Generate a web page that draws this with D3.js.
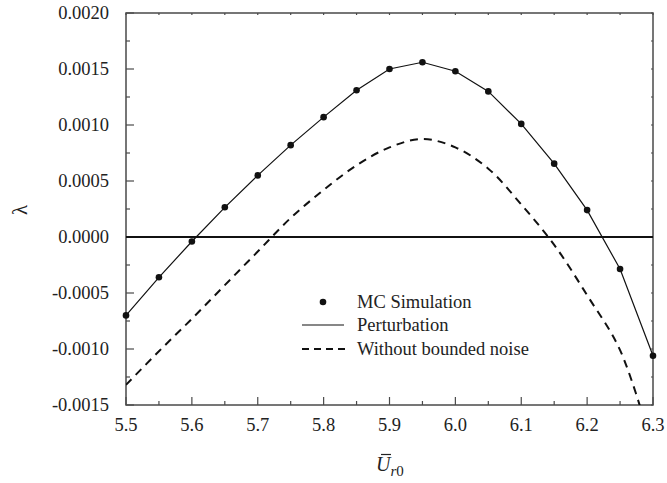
<!DOCTYPE html>
<html>
<head>
<meta charset="utf-8">
<script src="https://cdn.jsdelivr.net/npm/d3@7"></script>
<style>
  html, body { margin: 0; padding: 0; background: #fff; }
  svg { display: block; }
</style>
</head>
<body>
<svg id="chart" width="667" height="483"></svg>
<script>
// Growth exponent λ versus mean speed Ū_r0
const uValues = [5.5, 5.55, 5.6, 5.65, 5.7, 5.75, 5.8, 5.85, 5.9, 5.95, 6.0, 6.05, 6.1, 6.15, 6.2, 6.25, 6.3];
const mcSimulation = [-0.0007, -0.00036, -0.00004, 0.000265, 0.00055, 0.00082, 0.00107, 0.00131, 0.0015, 0.00156, 0.00148, 0.0013, 0.00101, 0.000655, 0.00024, -0.000286, -0.00106];
const perturbation = [-0.0007, -0.00036, -0.00004, 0.000265, 0.00055, 0.00082, 0.00107, 0.00131, 0.0015, 0.00156, 0.00148, 0.0013, 0.00101, 0.000655, 0.00024, -0.000286, -0.00106];
const withoutNoise = [-0.00132, -0.00102, -0.00073, -0.00043, -0.00013, 0.00017, 0.00042, 0.00064, 0.0008, 0.000875, 0.0008, 0.00061, 0.00029, -0.00007, -0.00052, -0.00101, -0.0019];
const xTicks = [5.5, 5.6, 5.7, 5.8, 5.9, 6.0, 6.1, 6.2, 6.3];
const yTicks = [-0.0015, -0.001, -0.0005, 0, 0.0005, 0.001, 0.0015, 0.002];
const legendLabels = ["MC Simulation", "Perturbation", "Without bounded noise"];

const svg = d3.select("#chart");
const pLeft = 126, pRight = 653, pTop = 13, pBottom = 405;
const ink = "#222";
const serif = "Liberation Serif";

const x = d3.scaleLinear().domain([5.5, 6.3]).range([pLeft, pRight]);
const y = d3.scaleLinear().domain([-0.0015, 0.002]).range([pBottom, pTop]);

const frameColor = "#4a4a4a";

svg.append("defs").append("clipPath").attr("id", "plotClip")
  .append("rect").attr("x", pLeft).attr("y", pTop).attr("width", pRight - pLeft).attr("height", pBottom - pTop);

// minor ticks at half steps
const xMinor = d3.range(5.5, 6.3001, 0.05).map(v => +v.toFixed(2));
const yMinor = d3.range(-0.0015, 0.002001, 0.00025).map(v => +v.toFixed(5));

const axes = svg.append("g");

// bottom axis: inward ticks
axes.selectAll(".bminor").data(xMinor).join("line")
  .attr("x1", d => x(d)).attr("x2", d => x(d))
  .attr("y1", pBottom).attr("y2", d => pBottom - (xTicks.some(t => Math.abs(t - d) < 1e-6) ? 8 : 4))
  .attr("stroke", frameColor).attr("stroke-width", 1.2);
// top axis: small ticks
axes.selectAll(".tminor").data(xMinor).join("line")
  .attr("x1", d => x(d)).attr("x2", d => x(d))
  .attr("y1", pTop).attr("y2", pTop + 2)
  .attr("stroke", frameColor).attr("stroke-width", 1.2);
// left axis: inward ticks
axes.selectAll(".lminor").data(yMinor).join("line")
  .attr("y1", d => y(d)).attr("y2", d => y(d))
  .attr("x1", pLeft).attr("x2", d => pLeft + (yTicks.some(t => Math.abs(t - d) < 1e-9) ? 8 : 4))
  .attr("stroke", frameColor).attr("stroke-width", 1.2);
// right axis: small ticks
axes.selectAll(".rminor").data(yMinor).join("line")
  .attr("y1", d => y(d)).attr("y2", d => y(d))
  .attr("x1", pRight).attr("x2", pRight - 2)
  .attr("stroke", frameColor).attr("stroke-width", 1.2);

// frame
axes.append("rect")
  .attr("x", pLeft).attr("y", pTop).attr("width", pRight - pLeft).attr("height", pBottom - pTop)
  .attr("fill", "none").attr("stroke", frameColor).attr("stroke-width", 1.5);

// tick labels
axes.selectAll(".xlab").data(xTicks).join("text")
  .attr("x", d => x(d)).attr("y", pBottom + 26)
  .attr("text-anchor", "middle").attr("font-size", 18.5)
  .attr("font-family", serif).attr("fill", ink)
  .text(d => d3.format(".1f")(d));
axes.selectAll(".ylab").data(yTicks).join("text")
  .attr("x", 109).attr("y", d => y(d)).attr("dy", "0.35em")
  .attr("text-anchor", "end").attr("font-size", 18.5)
  .attr("font-family", serif).attr("fill", ink)
  .text(d => d3.format(".4f")(d).replace("−", "-"));

// axis titles
svg.append("text")
  .attr("transform", "translate(27,210) rotate(-90)")
  .attr("text-anchor", "middle").attr("font-size", 21)
  .attr("font-family", serif).attr("fill", ink)
  .text("λ");

const xt = svg.append("text").attr("x", 376).attr("y", 471).attr("font-size", 20)
  .attr("font-family", serif).attr("fill", ink);
xt.append("tspan").attr("font-style", "italic").text("U");
xt.append("tspan").attr("font-style", "italic").attr("font-size", 15).attr("dy", 5).text("r");
xt.append("tspan").attr("font-size", 15).text("0");
svg.append("line").attr("x1", 381).attr("x2", 391).attr("y1", 454.5).attr("y2", 454.5)
  .attr("stroke", ink).attr("stroke-width", 1.2);

// zero reference line
svg.append("line")
  .attr("x1", pLeft).attr("x2", pRight).attr("y1", y(0)).attr("y2", y(0))
  .attr("stroke", "#111").attr("stroke-width", 2.2);

const plot = svg.append("g").attr("clip-path", "url(#plotClip)");
const line = d3.line().x((d, i) => x(uValues[i])).y(d => y(d));
const smoothLine = d3.line().x((d, i) => x(uValues[i])).y(d => y(d)).curve(d3.curveCatmullRom);

plot.append("path").datum(withoutNoise)
  .attr("d", smoothLine).attr("fill", "none")
  .attr("stroke", "#111").attr("stroke-width", 2).attr("stroke-dasharray", "8,6");

plot.append("path").datum(perturbation)
  .attr("d", line).attr("fill", "none")
  .attr("stroke", "#111").attr("stroke-width", 1.2);

svg.append("g").selectAll("circle").data(mcSimulation).join("circle")
  .attr("cx", (d, i) => x(uValues[i])).attr("cy", d => y(d)).attr("r", 3.3)
  .attr("fill", "#111");

// legend
const lg = svg.append("g");
const lx0 = 302, lx1 = 344, tx = 357;
const rows = [302, 325, 349];
lg.append("circle").attr("cx", (lx0 + lx1) / 2).attr("cy", rows[0]).attr("r", 3.3).attr("fill", "#111");
lg.append("line").attr("x1", lx0).attr("x2", lx1).attr("y1", rows[1]).attr("y2", rows[1])
  .attr("stroke", "#111").attr("stroke-width", 1.2);
lg.append("line").attr("x1", lx0).attr("x2", lx1 + 2).attr("y1", rows[2]).attr("y2", rows[2])
  .attr("stroke", "#111").attr("stroke-width", 2).attr("stroke-dasharray", "7,5");
lg.selectAll(".lt").data(legendLabels).join("text")
  .attr("x", tx).attr("y", (d, i) => rows[i]).attr("dy", "0.35em")
  .attr("font-size", 18.5).attr("font-family", serif).attr("fill", ink)
  .text(d => d);
</script>
</body>
</html>
